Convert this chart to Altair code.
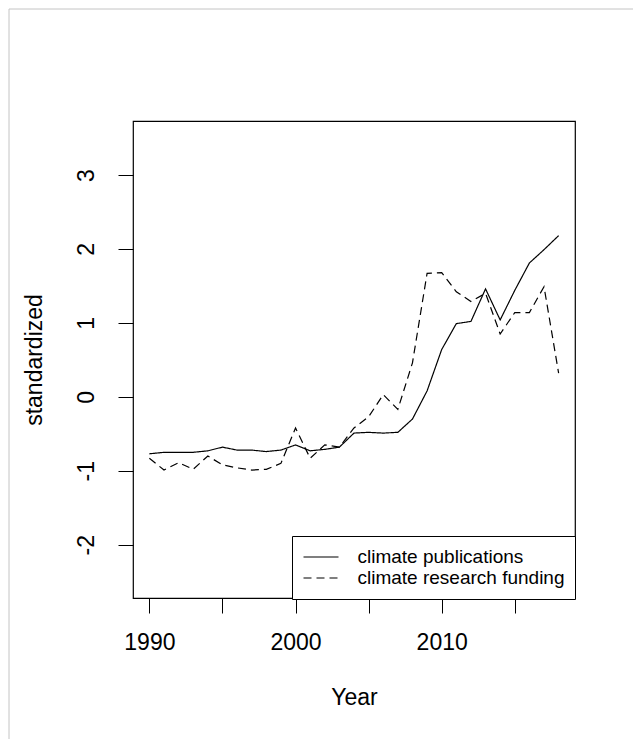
import altair as alt
import pandas as pd

# Standardized (z-scored) yearly series
years = list(range(1990, 2019))
publications = [
    -0.77, -0.75, -0.75, -0.75, -0.73, -0.68, -0.72, -0.72, -0.74, -0.72,
    -0.65, -0.73, -0.71, -0.68, -0.49, -0.48, -0.49, -0.48, -0.30, 0.08,
    0.64, 0.99, 1.02, 1.46, 1.04, 1.44, 1.81, 1.99, 2.18,
]
funding = [
    -0.83, -0.99, -0.89, -0.98, -0.80, -0.92, -0.96, -0.99, -0.98, -0.90,
    -0.42, -0.83, -0.65, -0.68, -0.42, -0.27, 0.03, -0.17, 0.46, 1.67,
    1.68, 1.42, 1.29, 1.40, 0.85, 1.14, 1.14, 1.49, 0.32,
]
series_names = ["climate publications", "climate research funding"]
x_ticks = [1990, 1995, 2000, 2005, 2010, 2015]
y_ticks = [-2, -1, 0, 1, 2, 3]

df = pd.DataFrame({
    "Year": years * 2,
    "standardized": publications + funding,
    "series": [series_names[0]] * len(years) + [series_names[1]] * len(years),
})

FONT = "Liberation Sans"
W, H = 442, 477

x_enc = alt.X(
    "Year:Q",
    scale=alt.Scale(domain=[1988.88, 2019.12], nice=False, zero=False),
    axis=alt.Axis(
        values=x_ticks, format="d",
        labelExpr="datum.value % 10 == 0 ? '' + datum.value : ''",
        grid=False, domain=False,
        tickSize=15, tickColor="black", tickWidth=1,
        labelPadding=36, labelBaseline="alphabetic", labelAlign="center",
        labelFont=FONT, labelFontSize=23, labelColor="black", labelFlush=False,
        title="Year", titleFont=FONT, titleFontSize=23, titleFontWeight="normal",
        titleColor="black", titleX=W / 2, titleY=106,
        titleAlign="center", titleBaseline="alphabetic",
    ),
)

y_enc = alt.Y(
    "standardized:Q",
    scale=alt.Scale(domain=[-2.72, 3.73], nice=False, zero=False),
    axis=alt.Axis(
        values=y_ticks, format="d",
        labelExpr="'' + datum.value",
        grid=False, domain=False,
        tickSize=15, tickColor="black", tickWidth=1,
        labelAngle=270, labelAlign="center", labelBaseline="alphabetic",
        labelPadding=25,
        labelFont=FONT, labelFontSize=23, labelColor="black", labelFlush=False,
        title="standardized", titleFont=FONT, titleFontSize=23,
        titleFontWeight="normal", titleColor="black",
        titleAngle=270, titleX=-92, titleY=H / 2,
        titleAlign="center", titleBaseline="alphabetic",
    ),
)

lines = alt.Chart(df).mark_line(color="black", strokeWidth=1.2).encode(
    x=x_enc,
    y=y_enc,
    strokeDash=alt.StrokeDash(
        "series:N",
        scale=alt.Scale(domain=series_names, range=[[1, 0], [8, 5]]),
        legend=alt.Legend(
            orient="none", legendX=159, legendY=415, title=None,
            symbolType="stroke", symbolSize=1225, symbolStrokeWidth=1.2,
            symbolStrokeColor="black", clipHeight=21, rowPadding=0,
            padding=10.5, strokeColor="black", fillColor="white",
            labelFont=FONT, labelFontSize=19, labelColor="black",
            labelOffset=18, labelLimit=400,
        ),
    ),
)

# thin grey window frame along the top and left edges
frame_src = pd.DataFrame({"k": [0]})
frame_left = alt.Chart(frame_src).mark_rule(color="#c4c4c4", strokeWidth=1).encode(
    x=alt.value(-124), y=alt.value(-112), y2=alt.value(H + 141)
)
frame_top = alt.Chart(frame_src).mark_rule(color="#c4c4c4", strokeWidth=1).encode(
    x=alt.value(-124), x2=alt.value(W + 58), y=alt.value(-112)
)

chart = alt.layer(frame_left, frame_top, lines).properties(
    width=W, height=H,
    autosize=alt.AutoSizeParams(type="none"),
    padding={"left": 133, "top": 121, "right": 58, "bottom": 141},
    background="white",
).configure_view(stroke="black", strokeWidth=1.2)

chart.save("out.html", embed_options={"renderer": "svg", "actions": False})
